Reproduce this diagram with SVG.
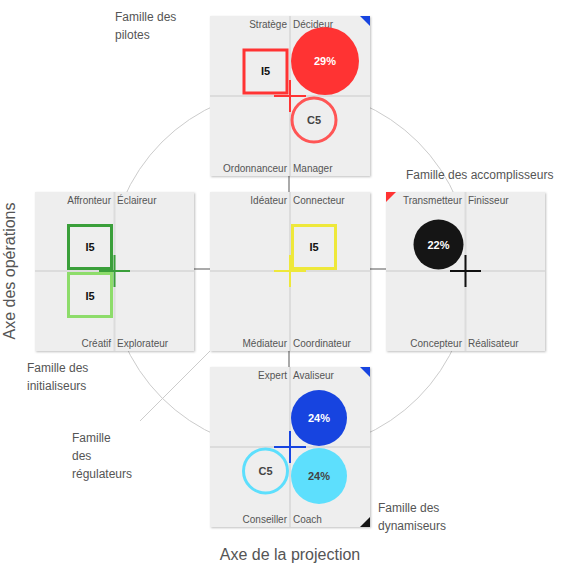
<svg xmlns="http://www.w3.org/2000/svg" width="580" height="580" viewBox="0 0 580 580">
<defs>
<filter id="sh" x="-10%" y="-10%" width="125%" height="125%">
<feDropShadow dx="1" dy="1" stdDeviation="1.2" flood-color="#000" flood-opacity="0.25"/>
</filter>
<style>
.box{fill:#eeeeee;filter:url(#sh)}
.div{stroke:#dcdcdc;stroke-width:2}
.lbl{font-family:"Liberation Sans",Arial,sans-serif;font-size:10px;fill:#555}
.r{text-anchor:end}
.fam{font-family:"Liberation Sans",Arial,sans-serif;font-size:12px;fill:#555}
.axis{font-family:"Liberation Sans",Arial,sans-serif;font-size:16px;fill:#555}
.val{font-family:"Liberation Sans",Arial,sans-serif;font-size:11px;font-weight:bold;text-anchor:middle}
.conn{stroke:#aaa;stroke-width:2;fill:none}
</style>
</defs>
<rect width="580" height="580" fill="#fff"/>
<g id="connectors">
<circle cx="290" cy="270" r="181" fill="none" stroke="#ccc" stroke-width="1"/>
<line x1="140" y1="421" x2="210" y2="351" stroke="#ccc" stroke-width="1"/>
<line class="conn" x1="289" y1="176" x2="289" y2="192"/>
<line class="conn" x1="289" y1="351" x2="289" y2="367"/>
<line class="conn" x1="194" y1="269" x2="210" y2="269"/>
<line class="conn" x1="370" y1="269" x2="386" y2="269"/>
</g>
<g id="top">
<rect class="box" x="210" y="16" width="160" height="160"/>
<line class="div" x1="290" y1="16" x2="290" y2="176"/>
<line class="div" x1="210" y1="96" x2="370" y2="96"/>
<polygon points="360,16 370,16 370,26" fill="#1744e0"/>
<text class="lbl r" x="287" y="28">Stratège</text>
<text class="lbl" x="293" y="28">Décideur</text>
<text class="lbl r" x="287" y="172">Ordonnanceur</text>
<text class="lbl" x="293" y="172">Manager</text>
<rect x="244" y="50" width="43" height="43" fill="none" stroke="#f33" stroke-width="3"/>
<text class="val" x="265.5" y="75" fill="#111">I5</text>
<circle cx="325" cy="61" r="34" fill="#f33"/>
<text class="val" x="325" y="65" fill="#fff">29%</text>
<circle cx="314" cy="120" r="22" fill="none" stroke="#f55" stroke-width="3"/>
<text class="val" x="314" y="124" fill="#444">C5</text>
<line x1="274" y1="96" x2="306" y2="96" stroke="#f33" stroke-width="2"/>
<line x1="290" y1="80" x2="290" y2="112" stroke="#f33" stroke-width="2"/>
</g>
<g id="left">
<rect class="box" x="35" y="192" width="159" height="159"/>
<line class="div" x1="114.5" y1="192" x2="114.5" y2="351"/>
<line class="div" x1="35" y1="271" x2="194" y2="271"/>
<text class="lbl r" x="111" y="204">Affronteur</text>
<text class="lbl" x="117" y="204">Éclaireur</text>
<text class="lbl r" x="111" y="347">Créatif</text>
<text class="lbl" x="117" y="347">Explorateur</text>
<rect x="68.5" y="225.5" width="43" height="43" fill="none" stroke="#3a9f3a" stroke-width="3"/>
<text class="val" x="90" y="251" fill="#111">I5</text>
<rect x="68.5" y="273.5" width="43" height="43" fill="none" stroke="#8ddc6a" stroke-width="3"/>
<text class="val" x="90" y="300" fill="#111">I5</text>
<line x1="99" y1="271" x2="130" y2="271" stroke="#3a9f3a" stroke-width="2"/>
<line x1="114.5" y1="255" x2="114.5" y2="287" stroke="#3a9f3a" stroke-width="2"/>
</g>
<g id="center">
<rect class="box" x="210" y="192" width="160" height="159"/>
<line class="div" x1="290" y1="192" x2="290" y2="351"/>
<line class="div" x1="210" y1="271" x2="370" y2="271"/>
<text class="lbl r" x="287" y="204">Idéateur</text>
<text class="lbl" x="293" y="204">Connecteur</text>
<text class="lbl r" x="287" y="347">Médiateur</text>
<text class="lbl" x="293" y="347">Coordinateur</text>
<rect x="292.5" y="225.5" width="43" height="43" fill="none" stroke="#eee83a" stroke-width="3"/>
<text class="val" x="314" y="251" fill="#111">I5</text>
<line x1="274" y1="271" x2="306" y2="271" stroke="#eee83a" stroke-width="2"/>
<line x1="290" y1="255" x2="290" y2="287" stroke="#eee83a" stroke-width="2"/>
</g>
<g id="right">
<rect class="box" x="386" y="192" width="159" height="159"/>
<line class="div" x1="465.5" y1="192" x2="465.5" y2="351"/>
<line class="div" x1="386" y1="271" x2="545" y2="271"/>
<polygon points="386,192 396,192 386,202" fill="#f33"/>
<text class="lbl r" x="462" y="204">Transmetteur</text>
<text class="lbl" x="468" y="204">Finisseur</text>
<text class="lbl r" x="462" y="347">Concepteur</text>
<text class="lbl" x="468" y="347">Réalisateur</text>
<circle cx="438.5" cy="244.5" r="25" fill="#151515"/>
<text class="val" x="438.5" y="249" fill="#fff">22%</text>
<line x1="450" y1="271" x2="481" y2="271" stroke="#111" stroke-width="2"/>
<line x1="465.5" y1="255" x2="465.5" y2="287" stroke="#111" stroke-width="2"/>
</g>
<g id="bottom">
<rect class="box" x="210" y="367" width="160" height="160"/>
<line class="div" x1="290" y1="367" x2="290" y2="527"/>
<line class="div" x1="210" y1="447" x2="370" y2="447"/>
<polygon points="360,367 370,367 370,377" fill="#1744e0"/>
<polygon points="370,517 370,527 360,527" fill="#151515"/>
<text class="lbl r" x="287" y="379">Expert</text>
<text class="lbl" x="293" y="379">Avaliseur</text>
<text class="lbl r" x="287" y="523">Conseiller</text>
<text class="lbl" x="293" y="523">Coach</text>
<circle cx="319" cy="418" r="28" fill="#1744e0"/>
<text class="val" x="319" y="422" fill="#fff">24%</text>
<circle cx="319" cy="476" r="28" fill="#5ddffd"/>
<text class="val" x="319" y="480" fill="#444">24%</text>
<circle cx="265.5" cy="471" r="22" fill="none" stroke="#5ddffd" stroke-width="3"/>
<text class="val" x="265.5" y="475" fill="#444">C5</text>
<line x1="274" y1="447" x2="306" y2="447" stroke="#1744e0" stroke-width="2"/>
<line x1="290" y1="431" x2="290" y2="463" stroke="#1744e0" stroke-width="2"/>
</g>
<g id="labels">
<text class="fam" x="115" y="21">Famille des</text>
<text class="fam" x="115" y="39">pilotes</text>
<text class="fam" x="406" y="179">Famille des accomplisseurs</text>
<text class="fam" x="27" y="372">Famille des</text>
<text class="fam" x="27" y="390">initialiseurs</text>
<text class="fam" x="72" y="442">Famille</text>
<text class="fam" x="72" y="460">des</text>
<text class="fam" x="72" y="478">régulateurs</text>
<text class="fam" x="378" y="512">Famille des</text>
<text class="fam" x="378" y="530">dynamiseurs</text>
<text class="axis" x="290" y="560" text-anchor="middle">Axe de la projection</text>
<text class="axis" transform="translate(15,271) rotate(-90)" text-anchor="middle">Axe des opérations</text>
</g>
</svg>
